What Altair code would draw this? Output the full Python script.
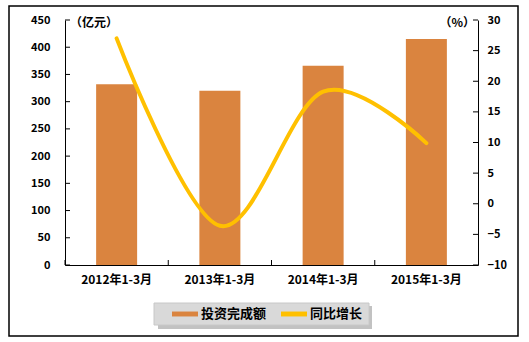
import altair as alt
import pandas as pd

# ---- data ----
categories = ["2012年1-3月", "2013年1-3月", "2014年1-3月", "2015年1-3月"]
investment = [332, 320, 366, 415]          # 亿元
growth = [27.0, -3.6, 18.3, 9.9]            # %
series_names = ["投资完成额", "同比增长"]
left_ticks = [0, 50, 100, 150, 200, 250, 300, 350, 400, 450]
right_ticks = [-10, -5, 0, 5, 10, 15, 20, 25, 30]
left_unit = "（亿元）"
right_unit = "（%）"

BAR_COLOR = "#DA843F"
LINE_COLOR = "#FFC000"
FONT = "Noto Sans CJK SC"

W, H = 413, 245

bars_df = pd.DataFrame({"cat": categories, "v": investment, "series": series_names[0]})
line_df = pd.DataFrame({"cat": categories, "g": growth})
lt_df = pd.DataFrame({"v": left_ticks})
rt_df = pd.DataFrame({"g": right_ticks})
cat_df = pd.DataFrame({"cat": categories})
one = pd.DataFrame({"a": [0]})

x_enc = alt.X("cat:N", sort=categories, title=None,
              scale=alt.Scale(paddingInner=0, paddingOuter=0),
              axis=alt.Axis(labelAngle=0, ticks=False, domainColor="black",
                            labelFont=FONT, labelFontSize=12, labelFontWeight="bold",
                            labelColor="black", labelPadding=9))

left_axis = alt.Axis(values=left_ticks, ticks=False, grid=False, domainColor="black",
                     labelFont=FONT, labelFontSize=11, labelFontWeight="bold",
                     labelColor="black", labelPadding=15)
right_axis = alt.Axis(values=right_ticks, ticks=False, grid=False, domainColor="black",
                      orient="right", labelFont=FONT, labelFontSize=11,
                      labelFontWeight="bold", labelColor="black", labelPadding=9)

left_scale = alt.Scale(domain=[0, 450], nice=False)
right_scale = alt.Scale(domain=[-10, 30], nice=False)

bars = alt.Chart(bars_df).mark_bar(size=41).encode(
    x=x_enc,
    y=alt.Y("v:Q", scale=left_scale, axis=left_axis, title=None),
    color=alt.Color("series:N", scale=alt.Scale(domain=series_names,
                                                range=[BAR_COLOR, LINE_COLOR]),
                    legend=alt.Legend(
                        title=None, orient="none", legendX=107, legendY=281,
                        direction="horizontal",
                        symbolType="M-1,-0.19H1V0.19H-1Z", symbolSize=676,
                        symbolStrokeWidth=0, labelOffset=3, columnPadding=14,
                        labelFont=FONT, labelFontSize=13, labelFontWeight="bold",
                        labelColor="black", padding=0)),
)

left_tick_rules = alt.Chart(lt_df).mark_rule(color="black", strokeWidth=1).encode(
    y=alt.Y("v:Q", scale=left_scale, axis=left_axis, title=None),
    x=alt.value(0), x2=alt.value(5),
)

x_tick_rules = alt.Chart(cat_df).mark_rule(color="black", strokeWidth=1).encode(
    x=alt.X("cat:N", sort=categories, bandPosition=0, title=None),
    y=alt.value(H - 5), y2=alt.value(H),
)

line = alt.Chart(line_df).mark_line(color=LINE_COLOR, strokeWidth=4,
                                     interpolate="cardinal", strokeCap="round").encode(
    x=alt.X("cat:N", sort=categories, title=None),
    y=alt.Y("g:Q", scale=right_scale, axis=right_axis, title=None),
)

right_tick_rules = alt.Chart(rt_df).mark_rule(color="black", strokeWidth=1).encode(
    y=alt.Y("g:Q", scale=right_scale, axis=right_axis, title=None),
    x=alt.value(W - 5), x2=alt.value(W),
)

left_group = alt.layer(bars, left_tick_rules, x_tick_rules)
right_group = alt.layer(line, right_tick_rules)

border = alt.Chart(one).mark_rect(fill=None, stroke="black", strokeWidth=1.5).encode(
    x=alt.value(-56), x2=alt.value(453), y=alt.value(-14), y2=alt.value(316))

legend_shadow = alt.Chart(one).mark_rect(fill="#9a9a9a", opacity=0.6).encode(
    x=alt.value(93), x2=alt.value(307), y=alt.value(286), y2=alt.value(309))
legend_box = alt.Chart(one).mark_rect(fill="#d9d9d9", stroke="#c8c8c8", strokeWidth=1).encode(
    x=alt.value(89), x2=alt.value(304), y=alt.value(283), y2=alt.value(305))

unit_left = alt.Chart(one).mark_text(font=FONT, fontSize=12, fontWeight="bold",
                                     align="left", baseline="middle", color="black").encode(
    x=alt.value(5), y=alt.value(3), text=alt.value(left_unit))
unit_right = alt.Chart(one).mark_text(font=FONT, fontSize=12, fontWeight="bold",
                                      align="right", baseline="middle", color="black").encode(
    x=alt.value(410), y=alt.value(3), text=alt.value(right_unit))

chart = alt.layer(
    border, legend_shadow, legend_box, left_group, right_group, unit_left, unit_right
).resolve_scale(y="independent").properties(
    width=W, height=H,
    autosize=alt.AutoSizeParams(type="none"),
    padding={"left": 65, "top": 20, "right": 51, "bottom": 77},
    background="white",
).configure_view(stroke=None)

chart.save("out.html", embed_options={"renderer": "svg", "actions": False})
